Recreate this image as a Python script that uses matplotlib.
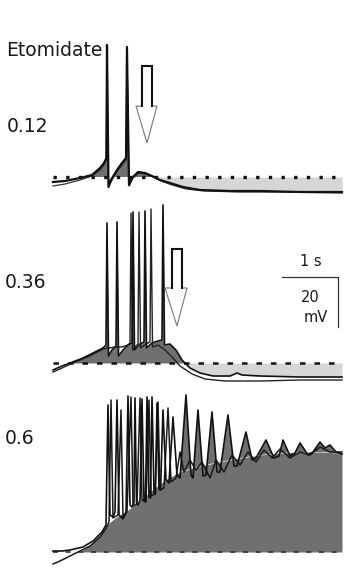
import numpy as np
import matplotlib
matplotlib.use("Agg")
import matplotlib.pyplot as plt
from matplotlib.patches import Polygon

# ---------------- data (time in s, membrane potential in mV relative to rest) ----------------
conc_labels = ["0.12", "0.36", "0.6"]
drug_label = "Etomidate"
scale_time_label = "1 s"
scale_volt_label = ["20", "mV"]

# Panel 1 (0.12)
trace1a = [(0.000, -2.0), (0.214, -1.6), (0.482, -0.4), (0.696, 0.8), (0.839, 3.6), (0.911, 5.6),
           (0.955, 7.6), (0.964, 52.8), (0.991, -4.0), (1.036, -1.2), (1.143, 2.8), (1.232, 5.6),
           (1.304, 7.6), (1.321, 52.0), (1.357, -3.2), (1.411, -0.4), (1.518, 2.0), (1.643, 1.6),
           (1.768, 0.4), (1.911, -1.2), (2.089, -2.4), (2.321, -4.0), (2.625, -5.2), (3.161, -5.6),
           (3.696, -5.6), (4.411, -6.0), (5.161, -6.0)]
trace1b = [(0.000, -3.6), (0.214, -2.8), (0.482, -1.2), (0.696, 0.4), (0.839, 2.8), (0.911, 4.8),
           (0.946, 6.8), (0.964, 50.8), (0.991, -4.0), (1.054, -1.2), (1.161, 2.8), (1.250, 5.2),
           (1.304, 6.8), (1.321, 50.8), (1.357, -3.6), (1.429, -0.4), (1.536, 1.6), (1.661, 1.2),
           (1.786, 0.0), (1.929, -1.6), (2.125, -3.2), (2.375, -4.8), (2.714, -5.6), (3.339, -6.0),
           (4.054, -6.0), (5.161, -6.4)]

# Panel 2 (0.36)
trace2a = [(0.000, -2.8), (0.161, -1.2), (0.304, 0.0), (0.536, 2.0), (0.750, 4.4), (0.893, 6.0),
           (0.946, 7.2), (0.964, 56.0), (0.991, 2.8), (1.054, 5.2), (1.125, 6.8), (1.143, 56.4),
           (1.170, 2.8), (1.250, 5.2), (1.339, 7.2), (1.411, 8.0), (1.429, 60.4), (1.455, 5.2),
           (1.554, 7.6), (1.625, 8.4), (1.643, 60.8), (1.670, 6.0), (1.768, 8.0), (1.875, 8.8),
           (1.946, 9.2), (1.964, 63.2), (1.991, 7.2), (2.089, 7.6), (2.196, 5.2), (2.304, 1.2),
           (2.446, -2.0), (2.625, -4.0), (2.857, -5.2), (3.161, -5.2), (3.286, -4.0), (3.375, -4.8),
           (3.696, -5.2), (4.411, -5.6), (5.161, -5.6)]
trace2b = [(0.000, -3.6), (0.161, -2.0), (0.393, 0.4), (0.661, 2.8), (0.893, 5.6), (1.107, 6.4),
           (1.232, 6.4), (1.339, 7.2), (1.375, 8.0), (1.393, 60.0), (1.420, 5.2), (1.482, 6.8),
           (1.518, 7.6), (1.536, 60.4), (1.563, 6.0), (1.661, 7.6), (1.732, 8.4), (1.750, 61.6),
           (1.777, 6.4), (1.875, 7.2), (2.000, 5.2), (2.125, 2.4), (2.268, -1.2), (2.482, -4.4),
           (2.714, -6.4), (3.071, -7.2), (3.696, -7.2), (4.411, -6.8), (5.161, -6.8)]

# Panel 3 (0.6)
trace3a = [(0.000, 0.4), (0.161, 0.4), (0.304, 0.8), (0.536, 2.0), (0.714, 4.4), (0.875, 8.0),
           (0.946, 10.8), (0.982, 58.8), (1.018, 14.8), (1.071, 14.0), (1.107, 16.0), (1.143, 60.8),
           (1.179, 14.8), (1.250, 13.2), (1.304, 16.0), (1.339, 62.4), (1.375, 18.8), (1.411, 18.0),
           (1.446, 19.6), (1.464, 61.6), (1.491, 19.6), (1.518, 18.8), (1.554, 20.8), (1.589, 61.2),
           (1.625, 20.8), (1.652, 20.0), (1.679, 62.0), (1.714, 22.0), (1.741, 21.6), (1.768, 62.0),
           (1.804, 23.6), (1.830, 23.2), (1.857, 59.6), (1.893, 25.2), (1.920, 24.8), (1.964, 56.8),
           (2.018, 28.8), (2.071, 27.6), (2.143, 54.0), (2.214, 30.8), (2.268, 29.6), (2.375, 62.8),
           (2.464, 30.8), (2.500, 29.6), (2.589, 56.8), (2.679, 30.4), (2.732, 30.8), (2.839, 56.0),
           (2.929, 32.0), (2.982, 32.0), (3.125, 54.8), (3.232, 34.4), (3.286, 34.4), (3.446, 48.0),
           (3.554, 36.8), (3.625, 37.6), (3.804, 44.8), (3.946, 37.6), (4.036, 38.4), (4.107, 44.8),
           (4.232, 38.4), (4.321, 39.6), (4.411, 43.6), (4.554, 38.8), (4.643, 40.0), (4.768, 44.0),
           (4.857, 41.6), (4.946, 42.8), (5.054, 40.0), (5.161, 39.2)]
trace3b = [(0.000, -4.8), (0.125, -3.6), (0.304, -1.6), (0.482, 0.4), (0.661, 2.4), (0.839, 6.0),
           (0.929, 8.8), (1.000, 12.0), (1.036, 60.8), (1.071, 13.6), (1.161, 14.8), (1.214, 56.8),
           (1.250, 14.0), (1.321, 16.0), (1.393, 62.0), (1.429, 18.4), (1.500, 19.2), (1.554, 61.6),
           (1.589, 20.8), (1.661, 20.0), (1.714, 60.8), (1.750, 22.4), (1.821, 23.2), (1.875, 60.0),
           (1.911, 24.8), (1.982, 25.6), (2.054, 57.6), (2.107, 28.0), (2.196, 29.6), (2.268, 40.0),
           (2.339, 32.0), (2.446, 36.8), (2.554, 32.8), (2.661, 36.0), (2.804, 29.6), (2.911, 36.8),
           (3.054, 32.0), (3.196, 38.8), (3.339, 34.8), (3.482, 40.0), (3.625, 36.0), (3.768, 40.8),
           (3.911, 37.6), (4.054, 41.2), (4.232, 37.6), (4.411, 40.0), (4.589, 38.8), (4.768, 42.0),
           (4.946, 40.0), (5.161, 40.0)]
envelope3 = [(0.482, 0.0), (0.661, 2.8), (0.839, 6.8), (0.964, 10.8), (1.107, 13.6), (1.286, 16.0),
             (1.464, 18.8), (1.732, 24.0), (2.000, 28.8), (2.268, 32.0), (2.625, 34.4), (2.982, 36.0),
             (3.339, 37.6), (3.696, 38.8), (4.054, 39.6), (4.411, 40.0), (4.768, 40.0), (5.161, 39.6)]

baseline_span = (0.0, 5.161)   # s, dotted resting-potential line

# ---------------- styling / layout ----------------
W, H = 349, 572
DARK = "#707070"
LIGHT = "#d6d6d6"
INK = "#111111"

fig = plt.figure(figsize=(W / 100, H / 100), dpi=100)
XL = (-3 / 56, 293 / 56)


def make_ax(top_px, bottom_px, base_px):
    ax = fig.add_axes([50 / W, 1 - bottom_px / H, 296 / W, (bottom_px - top_px) / H])
    ax.set_xlim(*XL)
    ax.set_ylim((base_px - bottom_px) / 2.5, (base_px - top_px) / 2.5)
    ax.axis("off")
    return ax


def unzip(tr):
    a = np.array(tr)
    return a[:, 0], a[:, 1]


ax1 = make_ax(35, 200, 177)
ax2 = make_ax(200, 385, 363)
ax3 = make_ax(385, 572, 552)

# ---- panel 1 ----
t, v = unzip(trace1a)
ax1.fill_between(t, 0, v, where=(v > 0), interpolate=True, color=DARK, lw=0, zorder=1)
ax1.fill_between(t, 0, v, where=(v < 0) & (t > 1.5), interpolate=True, color=LIGHT, lw=0, zorder=1)
ax1.plot(baseline_span, [0, 0], color=INK, lw=2.4, ls=(0, (1, 2.8)), solid_capstyle="butt", zorder=2)
tb, vb = unzip(trace1b)
ax1.plot(tb, vb, color="#333333", lw=0.9, zorder=3)
ax1.plot(t, v, color=INK, lw=1.6, zorder=4)

# ---- panel 2 ----
t, v = unzip(trace2a)
ax2.fill_between(t, 0, v, where=(v > 0) & (t > 0.3), interpolate=True, color=DARK, lw=0, zorder=1)
ax2.fill_between(t, 0, v, where=(v < 0) & (t > 1.5), interpolate=True, color=LIGHT, lw=0, zorder=1)
ax2.plot(baseline_span, [0, 0], color=INK, lw=1.8, ls=(0, (2.2, 3.6)), solid_capstyle="butt", zorder=2)
tb, vb = unzip(trace2b)
ax2.plot(tb, vb, color="#222222", lw=1.0, zorder=3)
ax2.plot(t, v, color=INK, lw=1.2, zorder=4)

# ---- panel 3 ----
te, ve = unzip(envelope3)
ax3.fill_between(te, 0, ve, color=DARK, lw=0, zorder=1)
t, v = unzip(trace3a)
env_at_t = np.interp(t, te, ve)
ax3.fill_between(t, env_at_t, v, where=(v > env_at_t) & (t > 2.3), interpolate=True,
                 color=DARK, lw=0, zorder=1)
ax3.plot(baseline_span, [0, 0], color="#333333", lw=1.2, ls=(0, (3.0, 4.6)), solid_capstyle="butt", zorder=2)
tb, vb = unzip(trace3b)
ax3.plot(tb, vb, color="#1a1a1a", lw=1.1, zorder=3)
ax3.plot(t, v, color=INK, lw=1.2, zorder=4)


# ---- hollow arrows ----
def hollow_arrow(ax, x0, x1, hx0, hx1, tipx, ytop, ybase, ytip):
    verts = [(x0, ytop), (x1, ytop), (x1, ybase), (hx1, ybase), (tipx, ytip), (hx0, ybase), (x0, ybase)]
    ax.add_patch(Polygon(verts, closed=True, facecolor="white", edgecolor="#777777", lw=0.8, zorder=5))
    ax.plot([x0, x0, x1, x1], [ybase, ytop, ytop, ybase], color=INK, lw=1.5, zorder=6,
            solid_joinstyle="miter")


hollow_arrow(ax1, 1.589, 1.768, 1.482, 1.857, 1.679, 44.4, 28.4, 13.6)
hollow_arrow(ax2, 2.125, 2.304, 2.000, 2.393, 2.214, 45.6, 30.0, 14.8)

# ---- scale bar (1 s, 20 mV) in panel 2 ----
ax2.plot([4.089, 5.089, 5.089], [34.4, 34.4, 14.4], color="#333333", lw=0.9, zorder=5)

# ---- text ----
def ftext(x, y, s, size, ha="left"):
    fig.text(x / W, 1 - y / H, s, fontsize=size, ha=ha, va="center",
             family="DejaVu Sans", color="#1a1a1a")


ftext(6, 50, drug_label, 13.5)
ftext(7, 126, conc_labels[0], 13.5)
ftext(5, 282, conc_labels[1], 13.5)
ftext(5, 438, conc_labels[2], 13.5)
ftext(311, 262, scale_time_label, 10.5, ha="center")
ftext(310, 298, scale_volt_label[0], 10.5, ha="center")
ftext(316, 317, scale_volt_label[1], 10.5, ha="center")

fig.savefig("out.png", dpi=100, facecolor="white")
